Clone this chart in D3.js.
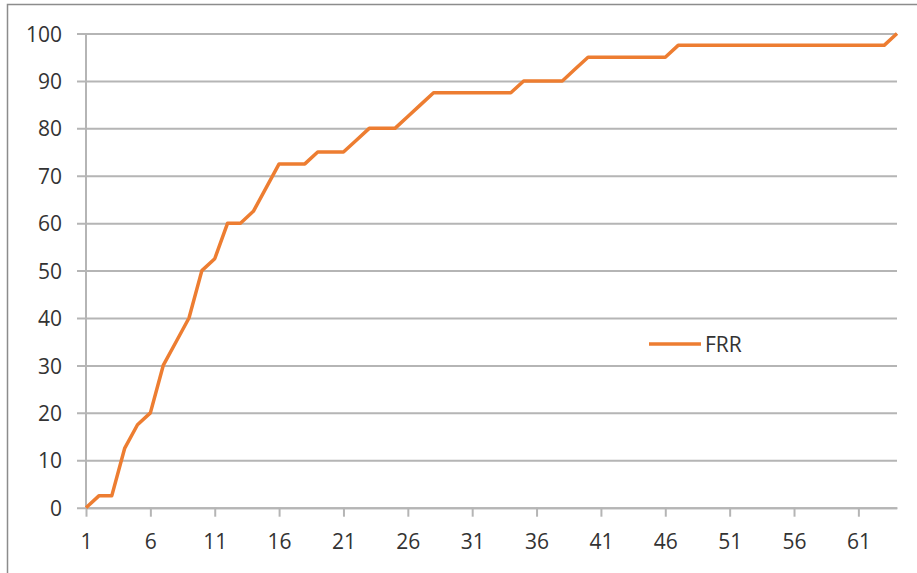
<!DOCTYPE html>
<html>
<head>
<meta charset="utf-8">
<script src="https://cdn.jsdelivr.net/npm/d3@7"></script>
<style>
  html, body { margin: 0; padding: 0; background: #fff; }
  svg { display: block; }
  text { font-family: "Open Sans", "Noto Sans", sans-serif; fill: #333; }
</style>
</head>
<body>
<script>
// FRR by trial index
const seriesName = "FRR";
const frrValues = [
  0, 2.5, 2.5, 12.5, 17.5, 20, 30, 35, 40, 50,
  52.5, 60, 60, 62.5, 67.5, 72.5, 72.5, 72.5, 75, 75,
  75, 77.5, 80, 80, 80, 82.5, 85, 87.5, 87.5, 87.5,
  87.5, 87.5, 87.5, 87.5, 90, 90, 90, 90, 92.5, 95,
  95, 95, 95, 95, 95, 95, 97.5, 97.5, 97.5, 97.5,
  97.5, 97.5, 97.5, 97.5, 97.5, 97.5, 97.5, 97.5, 97.5, 97.5,
  97.5, 97.5, 97.5, 100
];
const categories = frrValues.map((_, i) => i + 1);
const xTickLabels = [1, 6, 11, 16, 21, 26, 31, 36, 41, 46, 51, 56, 61];
const yTickLabels = [0, 10, 20, 30, 40, 50, 60, 70, 80, 90, 100];

const W = 917, H = 573;
const plot = { left: 86, right: 897, top: 33.5, bottom: 507.7 };

const svg = d3.select("body").append("svg").attr("width", W).attr("height", H);

// outer chart frame (extends past the window on right and bottom)
svg.append("rect")
  .attr("x", 7.5).attr("y", 4.5).attr("width", W + 20).attr("height", H + 20)
  .attr("fill", "#fff").attr("stroke", "#8c8c8c").attr("stroke-width", 1.5);

const x = d3.scaleLinear().domain([1, categories.length]).range([plot.left, plot.right]);
const y = d3.scaleLinear().domain([0, 100]).range([plot.bottom, plot.top]);

// horizontal gridlines with left tick stubs
const yAxis = d3.axisLeft(y).tickValues(yTickLabels).tickSize(-(plot.right - plot.left)).tickPadding(15).tickSizeOuter(0);
const gy = svg.append("g").attr("transform", `translate(${plot.left},0)`).call(yAxis);
gy.select(".domain").remove();
gy.selectAll(".tick line").attr("stroke", "#b5b5b5").attr("stroke-width", 2)
  .attr("x1", -9);
gy.selectAll(".tick text").attr("font-size", 21).attr("fill", "#333")
  .attr("x", -24).attr("dy", "0.36em")
  .style("font-family", "'Open Sans', 'Noto Sans', sans-serif");

// vertical axis line
svg.append("line").attr("x1", plot.left).attr("x2", plot.left).attr("y1", plot.top).attr("y2", plot.bottom)
  .attr("stroke", "#b5b5b5").attr("stroke-width", 2);

// category axis
const xAxis = d3.axisBottom(x).tickValues(xTickLabels).tickSize(9).tickPadding(17).tickSizeOuter(0);
const gx = svg.append("g").attr("transform", `translate(0,${plot.bottom})`).call(xAxis);
gx.select(".domain").attr("stroke", "#b5b5b5").attr("stroke-width", 2);
gx.selectAll(".tick line").attr("stroke", "#b5b5b5").attr("stroke-width", 2);
gx.selectAll(".tick text").attr("font-size", 21).attr("fill", "#333")
  .style("font-family", "'Open Sans', 'Noto Sans', sans-serif");

// FRR line
const line = d3.line().x((d, i) => x(categories[i])).y(d => y(d));
svg.append("path").datum(frrValues)
  .attr("d", line)
  .attr("fill", "none")
  .attr("stroke", "#ED7D31")
  .attr("stroke-width", 3.5)
  .attr("stroke-linejoin", "round");

// legend
const lg = svg.append("g").attr("transform", "translate(649,344)");
lg.append("line").attr("x1", 0).attr("x2", 52).attr("y1", 0).attr("y2", 0)
  .attr("stroke", "#ED7D31").attr("stroke-width", 3.5);
lg.append("text").attr("x", 56).attr("y", 0).attr("dy", "0.36em")
  .attr("font-size", 21).text(seriesName);
</script>
</body>
</html>
